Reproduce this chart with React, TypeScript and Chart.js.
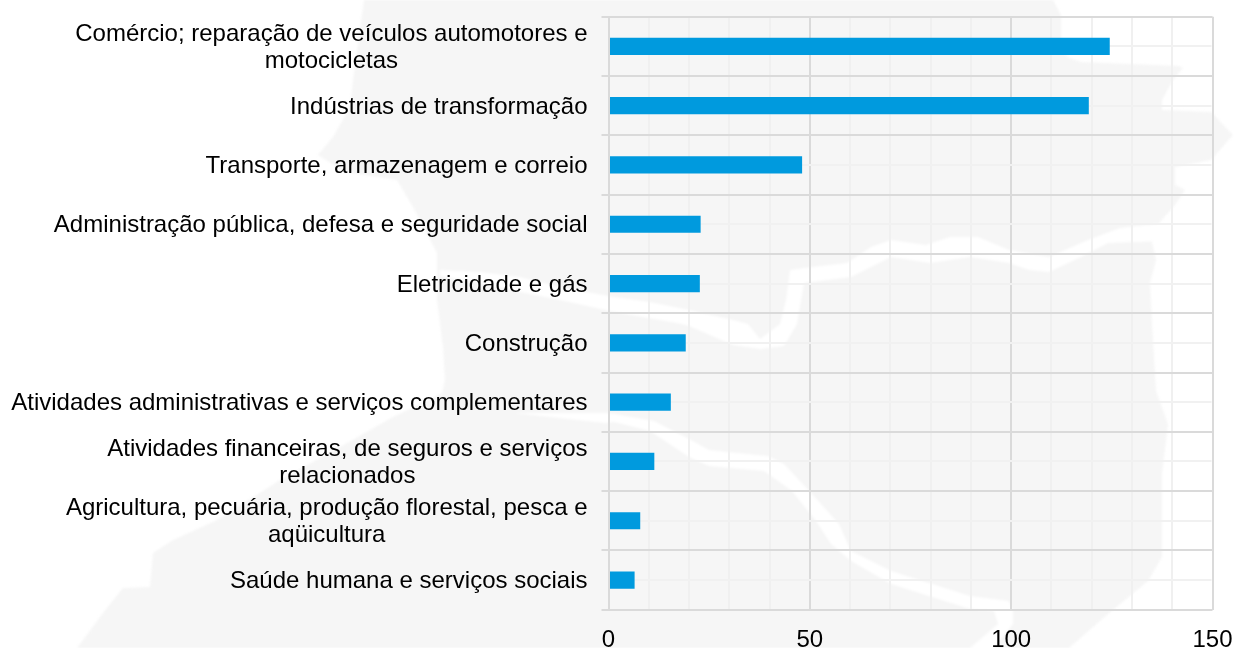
import React, { useEffect, useRef } from "react";
import { Chart, registerables } from "chart.js";

Chart.register(...registerables);

const categories: (string | string[])[] = [
  ["Comércio; reparação de veículos automotores e", "motocicletas"],
  "Indústrias de transformação",
  "Transporte, armazenagem e correio",
  "Administração pública, defesa e seguridade social",
  "Eletricidade e gás",
  "Construção",
  "Atividades administrativas e serviços complementares",
  ["Atividades financeiras, de seguros e serviços", "relacionados"],
  ["Agricultura, pecuária, produção florestal, pesca e", "aqüicultura"],
  "Saúde humana e serviços sociais",
];
const values = [124.4, 119.2, 48.0, 22.8, 22.6, 19.1, 15.4, 11.3, 7.8, 6.4];
const majorStep = 50;
const minorStep = 10;
const axisMax = 150;

const FONT = "'Liberation Sans', Arial, sans-serif";
const MAJOR = "#dadada";
const MINOR = "#f0f0f0";
const WATERMARK = "#f6f6f6";

// decorative map silhouette behind the chart
const silhouette =
  "364,0 1053,0 1061,15 1061,50 1069,58 1081,62 1179,66 1183,68 1173,80 1162,100 1162,110 1211,112 1233,135 1211,160 1175,167 1175,185 1185,190 1175,205 1160,222 1152,242 1156,260 1150,283 1152,323 1156,391 1168,424 1162,474 1162,557 1148,581 1108,614 1069,648 77,648 103,613 123,588 150,587 153,553 173,540 217,520 280,480 340,447 393,417 442,393 445,380 443,347 437,300 437,253 413,207 397,180 345,172 318,155 333,137 350,107 353,80";
const riverNorth =
  "1165,223 1120,228 1088,240 1049,257 1009,250 978,237 950,237 926,245 891,240 871,247 847,263 812,267 790,270 786,300 780,324 760,339 748,324 733,320 689,310 650,302 614,297 560,287 520,277 480,272 440,270 440,276 480,283 520,292 560,300 614,312 677,323 689,326 733,345 760,349 784,346 797,324 804,283 851,277 891,257 930,263 970,257 1009,263 1029,270 1049,272 1081,257 1108,243 1165,241";
const riverSouth =
  "514,413 605,413 614,414 654,421 689,439 709,450 768,456 784,464 812,494 839,524 851,551 891,571 970,596 1009,601 1013,611 1013,624 994,648 970,648 998,624 994,611 970,609 891,584 851,561 831,544 816,521 792,491 764,471 709,466 689,457 650,431 614,422 605,423";

const minorRows = {
  id: "minorRows",
  beforeDatasetsDraw(chart: any) {
    const { ctx, chartArea, scales } = chart;
    ctx.save();
    ctx.strokeStyle = "#f1f1f1";
    ctx.lineWidth = 2;
    categories.forEach((_, i) => {
      const y = Math.round(scales.y.getPixelForValue(i));
      ctx.beginPath();
      ctx.moveTo(chartArea.left + 1, y);
      ctx.lineTo(chartArea.right - 1, y);
      ctx.stroke();
    });
    ctx.restore();
  },
  afterDatasetsDraw(chart: any) {
    const { ctx, chartArea, scales } = chart;
    const x = Math.round(scales.x.getPixelForValue(0));
    ctx.save();
    ctx.strokeStyle = MAJOR;
    ctx.lineWidth = 2;
    ctx.beginPath();
    ctx.moveTo(x, chartArea.top);
    ctx.lineTo(x, chartArea.bottom);
    ctx.stroke();
    ctx.restore();
  },
};

const LABEL_NUDGE = 1.6;

// Centres the continuation line of a wrapped label under its first line.
function centreWrappedLabels(scale: any) {
  if (scale.__wrapped) return;
  scale.__wrapped = true;
  const original = scale.getLabelItems.bind(scale);
  scale.getLabelItems = (area: any) => {
    const ctx = scale.ctx;
    const out: any[] = [];
    for (const item of original(area)) {
      if (!Array.isArray(item.label)) {
        out.push({ ...item, textOffset: item.textOffset + LABEL_NUDGE });
        continue;
      }
      ctx.save();
      ctx.font = item.font.string;
      const first = ctx.measureText(item.label[0]).width;
      const widths = item.label.map((l: string) => ctx.measureText(l).width);
      ctx.restore();
      item.label.forEach((line: string, i: number) => {
        const [tx, ty] = item.options.translation;
        out.push({
          ...item,
          label: line,
          textOffset: item.textOffset + LABEL_NUDGE + i * item.font.lineHeight,
          options: {
            ...item.options,
            translation: [tx - (first - widths[i]) / 2, ty],
          },
        });
      });
    }
    return out;
  };
}

export default function App() {
  const ref = useRef<HTMLCanvasElement>(null);
  useEffect(() => {
    const chart = new Chart(ref.current!, {
      type: "bar",
      data: {
        labels: categories as any,
        datasets: [
          {
            data: values,
            backgroundColor: "#009ade",
            barThickness: 16.5,
          },
        ],
      },
      plugins: [minorRows],
      options: {
        indexAxis: "y",
        animation: false,
        responsive: false,
        layout: { padding: { top: 16.7, right: 21.5, left: 0, bottom: 0 } },
        plugins: { legend: { display: false }, tooltip: { enabled: false } },
        scales: {
          x: {
            min: 0,
            max: axisMax,
            afterFit: (s: any) => {
              s.height = 38.3;
              s.paddingLeft = 0;
              s.paddingRight = 0;
            },
            border: { display: false },
            grid: {
              drawTicks: false,
              color: (c: any) => (c.tick.value % majorStep === 0 ? MAJOR : MINOR),
              lineWidth: 2,
            },
            ticks: {
              stepSize: minorStep,
              autoSkip: false,
              maxRotation: 0,
              padding: 16,
              color: "#000",
              font: { family: FONT, size: 24 },
              callback: (v: any) => (Number(v) % majorStep === 0 ? String(v) : ""),
            },
          },
          y: {
            afterFit: (s: any) => {
              s.width = 608.5;
              s.paddingTop = 0;
              s.paddingBottom = 0;
            },
            afterUpdate: centreWrappedLabels,
            border: { display: false },
            grid: { color: MAJOR, lineWidth: 2, tickLength: 7 },
            ticks: {
              autoSkip: false,
              padding: 14,
              color: "#000",
              font: { family: FONT, size: 24, lineHeight: 1.125 },
            },
          },
        },
      } as any,
    });
    return () => chart.destroy();
  }, []);
  return (
    <div style={{ position: "fixed", left: 0, top: 0, width: 1234, height: 648, background: "#fff", overflow: "hidden" }}>
      <svg width={1234} height={648} style={{ position: "absolute", left: 0, top: 0, filter: "blur(1px)" }}>
        <polygon points={silhouette} fill={WATERMARK} />
        <polygon points={riverNorth} fill="#fff" />
        <polygon points={riverSouth} fill="#fff" />
      </svg>
      <canvas ref={ref} width={1234} height={648} style={{ position: "absolute", left: 0, top: 0, display: "block" }} />
    </div>
  );
}
